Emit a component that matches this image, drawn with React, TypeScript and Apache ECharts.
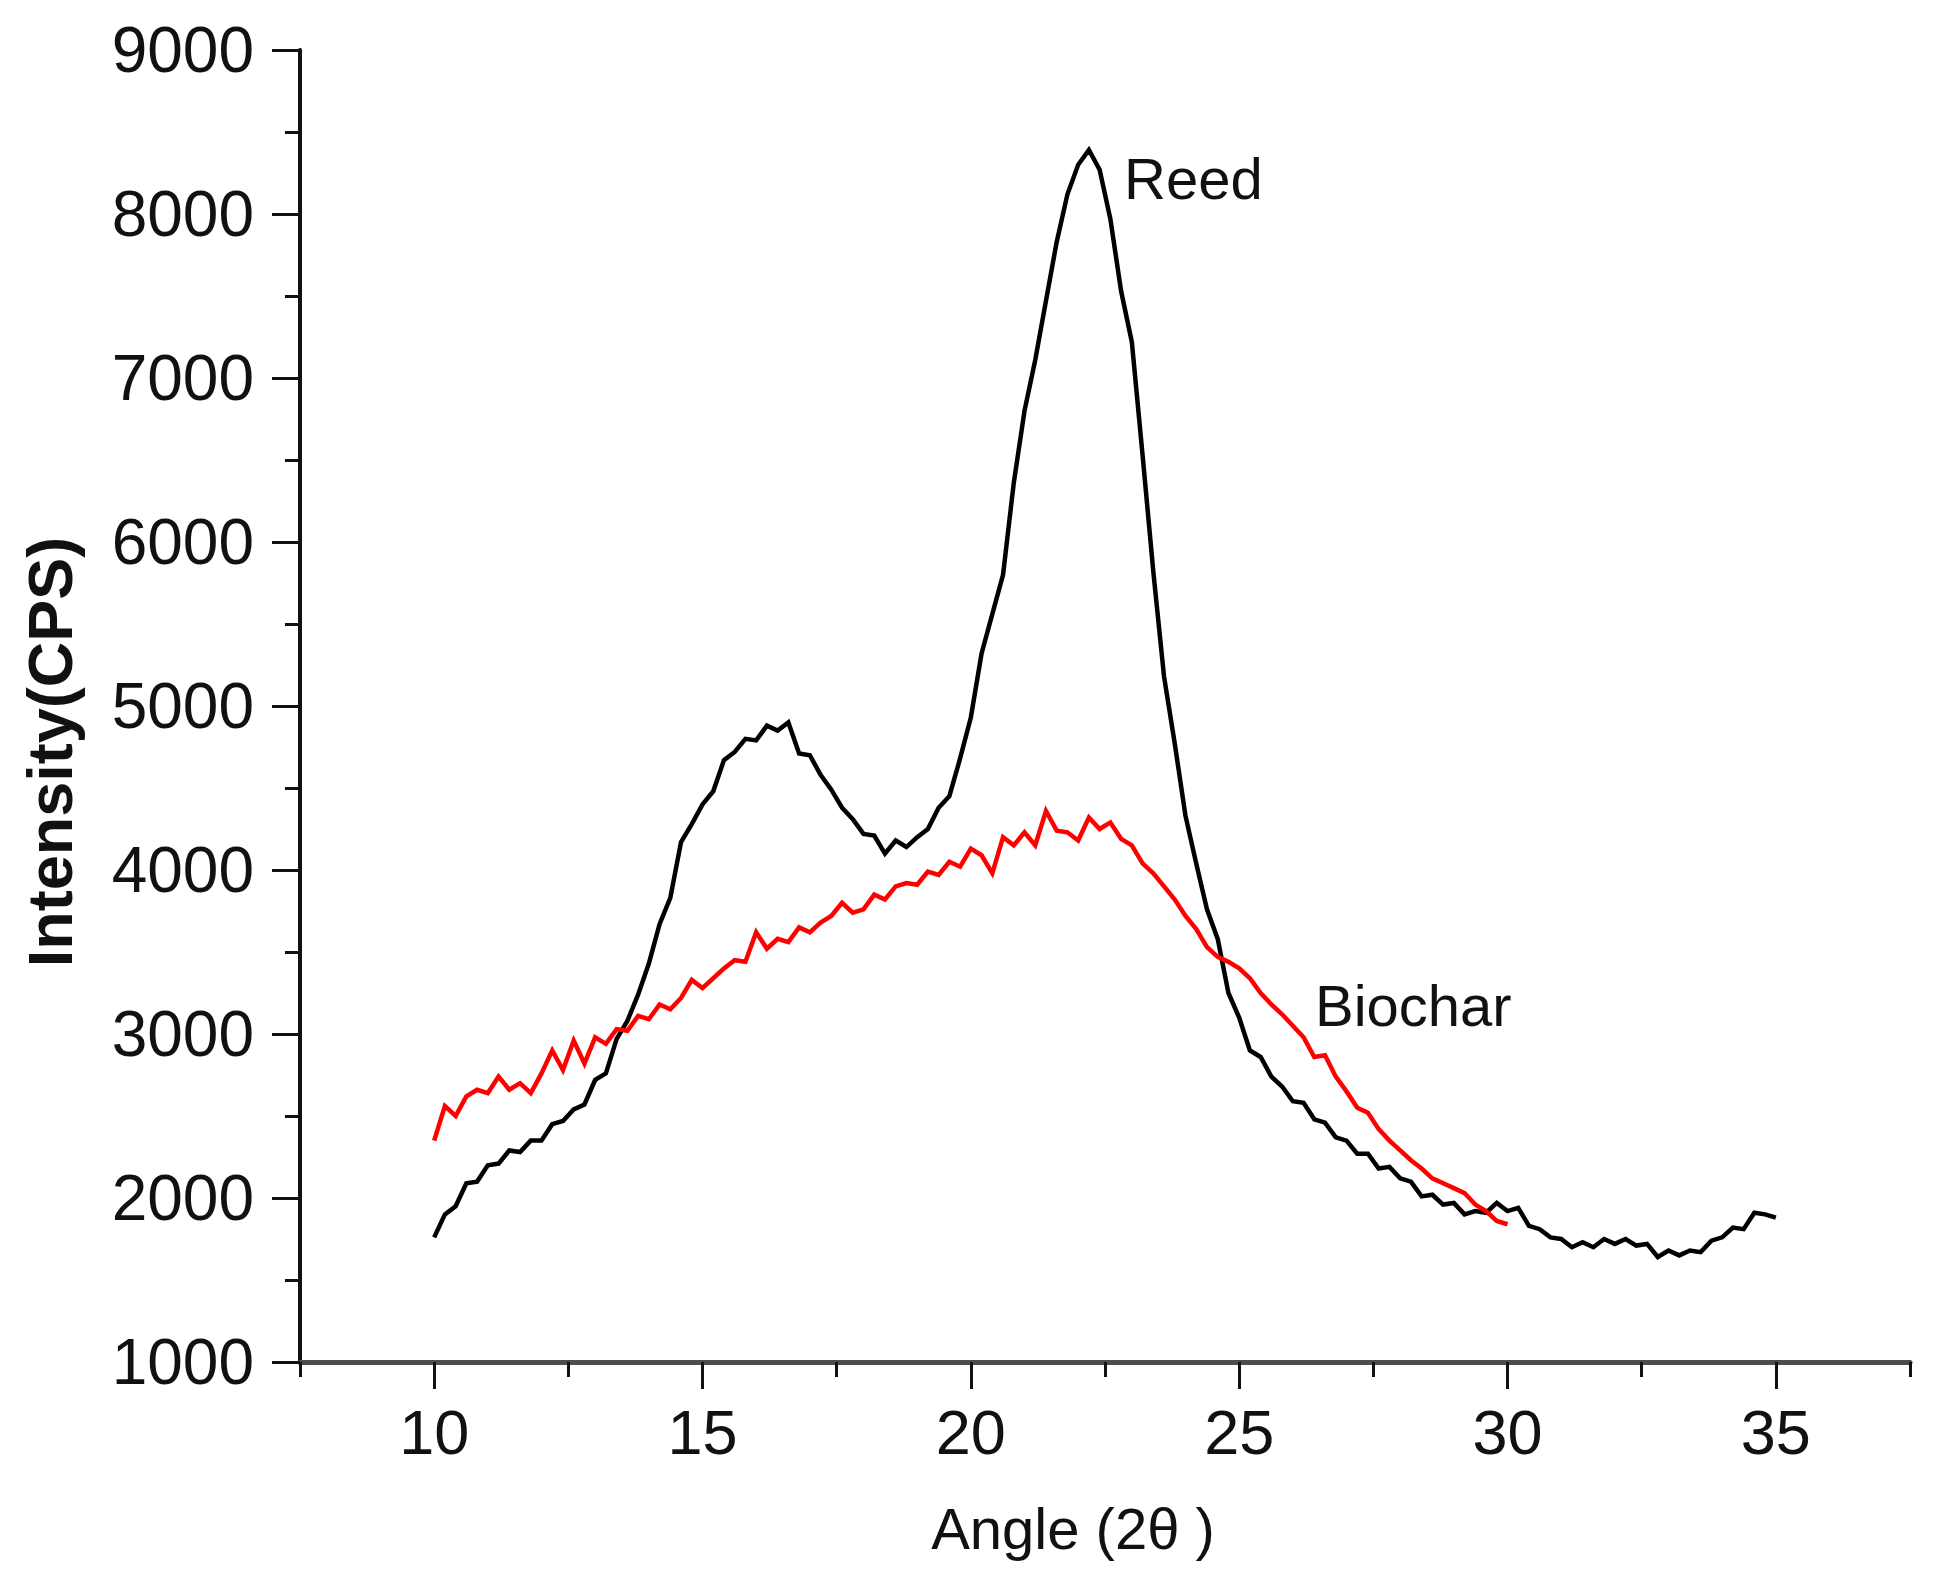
import React, { useEffect, useRef } from "react";
import * as echarts from "echarts";

// XRD patterns, sampled every 0.2 degree (2θ)
const reedStartAngle = 10;
const biocharStartAngle = 10;
const angleStep = 0.2;

const reedIntensity = [
  1760, 1900, 1950, 2090, 2100, 2200, 2210, 2290, 2280, 2350,
  2350, 2450, 2470, 2540, 2570, 2720, 2760, 2970, 3080, 3240,
  3430, 3670, 3830, 4170, 4280, 4400, 4480, 4670, 4720, 4800,
  4790, 4880, 4850, 4900, 4710, 4700, 4580, 4490, 4380, 4310,
  4220, 4210, 4100, 4180, 4140, 4200, 4250, 4380, 4450, 4680,
  4930, 5320, 5560, 5800, 6360, 6800, 7110, 7470, 7830, 8120,
  8300, 8390, 8270, 7970, 7530, 7220, 6530, 5820, 5180, 4770,
  4330, 4040, 3760, 3580, 3250, 3100, 2900, 2860, 2740, 2680,
  2590, 2580, 2480, 2460, 2370, 2350, 2270, 2270, 2180, 2190,
  2120, 2100, 2010, 2020, 1960, 1970, 1900, 1920, 1910, 1970,
  1920, 1940, 1830, 1810, 1760, 1750, 1700, 1730, 1700, 1750,
  1720, 1750, 1710, 1720, 1640, 1680, 1650, 1680, 1670, 1740,
  1760, 1820, 1810, 1910, 1900, 1880,
];

const biocharIntensity = [
  2350, 2560, 2500, 2620, 2660, 2640, 2740, 2660, 2700, 2640,
  2760, 2900, 2780, 2960, 2820, 2980, 2940, 3030, 3020, 3110,
  3090, 3180, 3150, 3220, 3330, 3280, 3340, 3400, 3450, 3440,
  3620, 3520, 3580, 3560, 3650, 3620, 3680, 3720, 3800, 3740,
  3760, 3850, 3820, 3900, 3920, 3910, 3990, 3970, 4050, 4020,
  4130, 4090, 3980, 4200, 4150, 4230, 4150, 4360, 4240, 4230,
  4180, 4320, 4250, 4290, 4190, 4150, 4040, 3980, 3900, 3820,
  3720, 3640, 3530, 3470, 3440, 3400, 3340, 3250, 3180, 3120,
  3050, 2980, 2860, 2870, 2740, 2650, 2550, 2520, 2420, 2350,
  2290, 2230, 2180, 2120, 2090, 2060, 2030, 1960, 1920, 1860,
  1840,
];

const xMajorTicks = [10, 15, 20, 25, 30, 35];
const xMinorTicks = [7.5, 12.5, 17.5, 22.5, 27.5, 32.5, 37.5];
const xRange = [7.5, 37.5];
const yRange = [1000, 9000];
const yInterval = 1000;

const seriesLabels = { reed: "Reed", biochar: "Biochar" };
const axisTitles = { x: "Angle (2θ )", y: "Intensity(CPS)" };

const toPairs = (start: number, values: number[]) =>
  values.map((v, i) => [Number((start + i * angleStep).toFixed(2)), v]);

export default function App() {
  const ref = useRef<HTMLDivElement>(null);

  useEffect(() => {
    if (!ref.current) return;
    const chart = echarts.init(ref.current, null, { renderer: "svg" });
    const fontFamily = '"Liberation Sans", Arial, Helvetica, sans-serif';
    const ink = "#111111";

    chart.setOption({
      animation: false,
      backgroundColor: "#ffffff",
      grid: { left: 300, right: 30, top: 50, bottom: 226, containLabel: false },
      xAxis: [
        {
          type: "value",
          min: xRange[0],
          max: xRange[1],
          interval: 2.5,
          axisLine: { show: true, onZero: false, lineStyle: { color: "#4d4d4d", width: 5 } },
          axisTick: {
            show: true,
            customValues: xMajorTicks,
            length: 27,
            lineStyle: { color: ink, width: 3 },
          },
          axisLabel: {
            show: true,
            customValues: xMajorTicks,
            margin: 38,
            fontSize: 63,
            fontFamily,
            color: ink,
            formatter: (v: number) => String(v),
          },
          splitLine: { show: false },
        },
        {
          type: "value",
          gridIndex: 0,
          position: "bottom",
          min: xRange[0],
          max: xRange[1],
          interval: 2.5,
          axisLine: { show: false },
          axisTick: {
            show: true,
            customValues: xMinorTicks,
            length: 15,
            lineStyle: { color: ink, width: 3 },
          },
          axisLabel: { show: false },
          splitLine: { show: false },
        },
      ],
      yAxis: {
        type: "value",
        min: yRange[0],
        max: yRange[1],
        interval: yInterval,
        axisLine: { show: true, onZero: false, lineStyle: { color: ink, width: 4 } },
        axisTick: { show: true, length: 28, lineStyle: { color: ink, width: 3 } },
        minorTick: { show: true, splitNumber: 2, length: 15, lineStyle: { color: ink, width: 3 } },
        axisLabel: {
          margin: 46,
          fontSize: 64,
          fontFamily,
          color: ink,
          formatter: (v: number) => String(v),
        },
        splitLine: { show: false },
        minorSplitLine: { show: false },
      },
      series: [
        {
          name: seriesLabels.reed,
          type: "line",
          xAxisIndex: 0,
          data: toPairs(reedStartAngle, reedIntensity),
          showSymbol: false,
          symbol: "none",
          lineStyle: { color: "#000000", width: 4.5, join: "miter" },
          z: 3,
        },
        {
          name: seriesLabels.biochar,
          type: "line",
          xAxisIndex: 0,
          data: toPairs(biocharStartAngle, biocharIntensity),
          showSymbol: false,
          symbol: "none",
          lineStyle: { color: "#ff0000", width: 4.5, join: "miter" },
          z: 4,
        },
      ],
      graphic: [
        {
          type: "text",
          x: 50,
          y: 752,
          rotation: Math.PI / 2,
          style: {
            text: axisTitles.y,
            fontSize: 63,
            fontWeight: "bold",
            fontFamily,
            fill: ink,
            textAlign: "center",
            textVerticalAlign: "middle",
          },
        },
        {
          type: "text",
          x: 1073,
          y: 1528,
          style: {
            text: axisTitles.x,
            fontSize: 58,
            fontFamily,
            fill: ink,
            textAlign: "center",
            textVerticalAlign: "middle",
          },
        },
        {
          type: "text",
          x: 1124,
          y: 178,
          style: {
            text: seriesLabels.reed,
            fontSize: 58,
            fontFamily,
            fill: ink,
            textAlign: "left",
            textVerticalAlign: "middle",
          },
        },
        {
          type: "text",
          x: 1315,
          y: 1005,
          style: {
            text: seriesLabels.biochar,
            fontSize: 58,
            fontFamily,
            fill: ink,
            textAlign: "left",
            textVerticalAlign: "middle",
          },
        },
      ],
    });

    return () => chart.dispose();
  }, []);

  return (
    <div
      ref={ref}
      style={{ position: "fixed", left: 0, top: 0, width: 1940, height: 1588, background: "#fff" }}
    />
  );
}
